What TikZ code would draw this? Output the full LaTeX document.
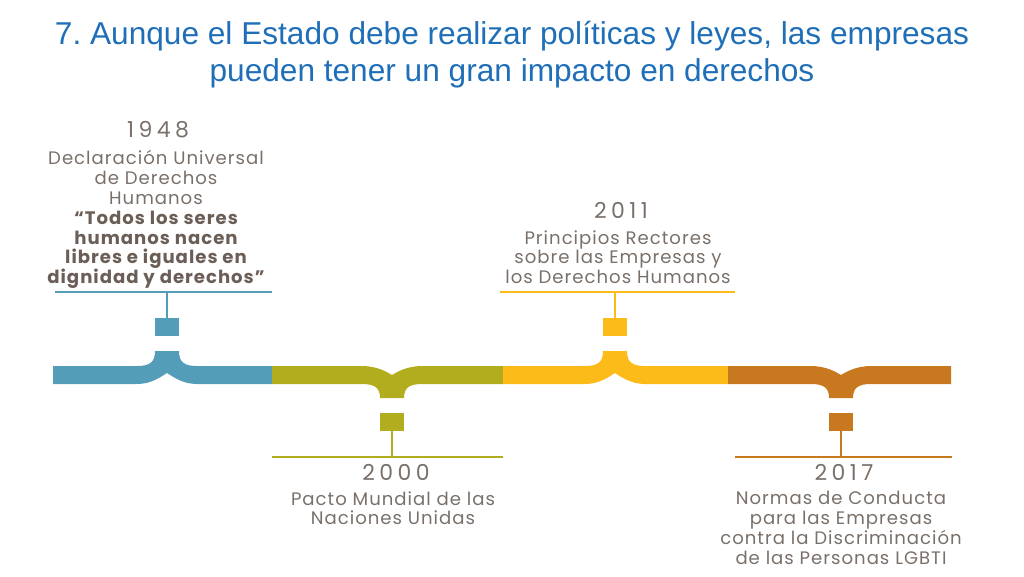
\documentclass[tikz,border=0pt]{standalone}
\usepackage{fontspec}
\setmainfont{Poppins}
\newfontfamily\titlefont{Liberation Sans}
\newfontfamily\labelfont{Poppins}[LetterSpace=5.5]
\newfontfamily\yearfont{Poppins}[LetterSpace=20]
\definecolor{titleblue}{HTML}{1F6FB8}
\definecolor{txtgray}{HTML}{7A706A}
\definecolor{qgray}{HTML}{6B5E57}
\definecolor{tlblue}{HTML}{549DB8}
\definecolor{tlolive}{HTML}{B2AD1E}
\definecolor{tlyellow}{HTML}{FDBB1A}
\definecolor{tlorange}{HTML}{C8781E}
\tikzset{
  year/.style={text=txtgray, font=\yearfont\fontsize{12.5}{13}\selectfont, inner sep=0pt},
  label/.style={text=txtgray, align=center, font=\labelfont\fontsize{10.3}{11.3}\selectfont, inner sep=0pt},
  marker/.style={minimum width=14pt, minimum height=10pt, inner sep=0pt}
}
\frenchspacing
\begin{document}
\begin{tikzpicture}[x=0.02cm, y=-0.02cm]
  \useasboundingbox (0,0) rectangle (1024,576);
  % title
  \node[text=titleblue, align=center, font=\titlefont\fontsize{18}{21}\selectfont, inner sep=0pt] (title) at (512,55)
    {7. Aunque el Estado debe realizar políticas y leyes, las empresas\\ pueden tener un gran impacto en derechos};
  % bar
  \fill[tlblue] (53,366) -- (137,366) .. controls (150,366) and (155,362) .. (155,351) -- (179,351)
    .. controls (179,362) and (184,366) .. (197,366) -- (272,366) -- (272,384) -- (197,384)
    .. controls (182,384) and (172,376) .. (167,373) .. controls (162,376) and (152,384) .. (137,384) -- (53,384) -- cycle;
  \fill[tlolive] (272,366) -- (362,366) .. controls (377,366) and (387,372) .. (392,375) .. controls (397,372) and (407,366) .. (422,366)
    -- (503,366) -- (503,384) -- (422,384) .. controls (409,384) and (404,388) .. (404,398) -- (380,398)
    .. controls (380,388) and (375,384) .. (362,384) -- (272,384) -- cycle;
  \fill[tlyellow] (503,366) -- (585,366) .. controls (598,366) and (603,362) .. (603,351) -- (627,351)
    .. controls (627,362) and (632,366) .. (645,366) -- (728,366) -- (728,384) -- (645,384)
    .. controls (630,384) and (620,376) .. (615,373) .. controls (610,376) and (600,384) .. (585,384) -- (503,384) -- cycle;
  \fill[tlorange] (728,366) -- (811,366) .. controls (826,366) and (836,372) .. (841,375) .. controls (846,372) and (856,366) .. (871,366)
    -- (951,366) -- (951,384) -- (871,384) .. controls (858,384) and (853,388) .. (853,398) -- (829,398)
    .. controls (829,388) and (824,384) .. (811,384) -- (728,384) -- cycle;
  % markers
  \node[marker, fill=tlblue] (m1948) at (167,327) {};
  \node[marker, fill=tlolive] (m2000) at (392,422) {};
  \node[marker, fill=tlyellow] (m2011) at (615,327) {};
  \node[marker, fill=tlorange] (m2017) at (841,422) {};
  % lines
  \draw[tlblue, line width=1.2pt] (55,292) -- (272,292);
  \draw[tlolive, line width=1.2pt] (272,457) -- (503,457);
  \draw[tlyellow, line width=1.2pt] (500,292) -- (735,292);
  \draw[tlorange, line width=1.2pt] (735,457) -- (952,457);
  \coordinate (s1948) at (167,292);
  \coordinate (s2000) at (392,457);
  \coordinate (s2011) at (615,292);
  \coordinate (s2017) at (841,457);
  \draw[tlblue, line width=1.2pt] (m1948) -- (s1948);
  \draw[tlolive, line width=1.2pt] (m2000) -- (s2000);
  \draw[tlyellow, line width=1.2pt] (m2011) -- (s2011);
  \draw[tlorange, line width=1.2pt] (m2017) -- (s2017);
  % texts
  \node[year] (y1948) at (158,130) {1948};
  \node[label, anchor=north] (t1948) at (156,150)
    {Declaración Universal\\ de Derechos\\ Humanos\\
     \textcolor{qgray}{\bfseries “Todos los seres}\\ \textcolor{qgray}{\bfseries humanos nacen}\\
     \textcolor{qgray}{\bfseries libres e iguales en}\\ \textcolor{qgray}{\bfseries dignidad y derechos”}};
  \node[year] (y2011) at (621,210) {2011};
  \node[label, anchor=north] (t2011) at (618,230)
    {Principios Rectores\\ sobre las Empresas y\\ los Derechos Humanos};
  \node[year] (y2000) at (396,472) {2000};
  \node[label, anchor=north] (t2000) at (393,491)
    {Pacto Mundial de las\\ Naciones Unidas};
  \node[year] (y2017) at (844,472) {2017};
  \node[label, anchor=north] (t2017) at (841,491)
    {Normas de Conducta\\ para las Empresas\\ contra la Discriminación\\ de las Personas LGBTI};
\end{tikzpicture}
\end{document}
